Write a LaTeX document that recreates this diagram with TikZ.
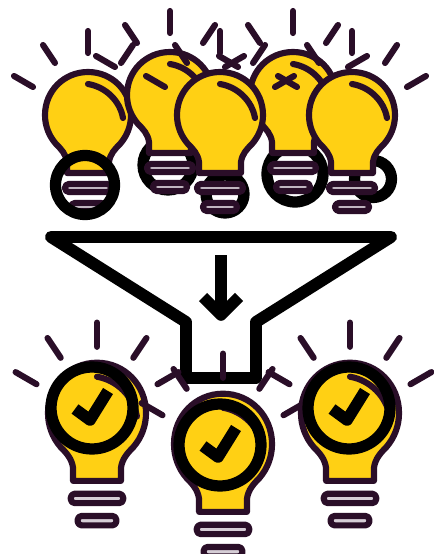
\documentclass[tikz,border=0pt]{standalone}
\usepackage{tikz}
\usepackage{xcolor}
\definecolor{BulbYellow}{RGB}{255,208,20}
\definecolor{BulbDark}{RGB}{42,14,40}
\definecolor{PillGrey}{RGB}{214,206,214}

\begin{document}
\begin{tikzpicture}[
  x=0.02cm, y=-0.02cm,
  darkline/.style={draw=BulbDark, line width=3.5pt, line cap=round, line join=round},
  ringline/.style={draw=black, line width=6.4pt},
  funnelline/.style={draw=black, line width=6.8pt, line cap=round, line join=round},
  pill/.style={darkline, fill=PillGrey, rounded corners=2.2pt},
  rays/.pic={
    \draw[darkline] (0,-84) -- (0,-62);
    \draw[darkline] (-45,-70) -- (-33,-52);
    \draw[darkline] (45,-70) -- (33,-52);
    \draw[darkline] (-74,-39) -- (-55,-28);
    \draw[darkline] (74,-39) -- (55,-28);
  },
  bulb/.pic={
    \draw[pill] (-23,69) rectangle (23,77);
    \draw[pill] (-17,88) rectangle (17,96);
    \draw[darkline, fill=BulbYellow] (-21,58) -- (-21,47)
      .. controls (-22,39) and (-27,34) .. (-32,29)
      .. controls (-39,21) and (-43,11) .. (-43,0)
      .. controls (-43,-24) and (-24,-43) .. (0,-43)
      .. controls (24,-43) and (43,-24) .. (43,0)
      .. controls (43,11) and (39,21) .. (32,29)
      .. controls (27,34) and (22,39) .. (21,47)
      -- (21,58) -- cycle;
    \draw[darkline] (0,-31) .. controls (18,-28) and (32,-14) .. (35,3);
  },
  okring/.pic={
    \draw[ringline] (0,0) circle (41);
    \draw[draw=black, line width=6.6pt, line join=round] (-17,1) -- (-2,12) -- (16,-17);
  }
]
\useasboundingbox (0,0) rectangle (433,554);

% top row
\draw[ringline] (168,165) circle (25);
\draw[ringline] (295,174) circle (28);
\draw[ringline] (225,194) circle (19);
\draw[ringline] (373,179) circle (18.5);

\pic at (88,115) {rays};
\pic at (88,115) {bulb};
\pic at (170,95) {rays};
\pic at (170,95) {bulb};
\pic at (293,95) {rays};
\pic at (293,95) {bulb};
\pic at (220,115) {rays};
\pic at (220,115) {bulb};
\pic at (352,115) {rays};
\pic at (352,115) {bulb};
\draw[ringline] (85,185) circle (29.5);

% funnel
\draw[funnelline] (51,237) -- (391,237) -- (256,322) -- (256,378) -- (186,378) -- (186,322) -- cycle;
\draw[draw=black, line width=6.6pt] (221,255) -- (221,310);
\draw[draw=black, line width=6.6pt, line join=round] (203,297) -- (221,315) -- (239,297);

% bottom row
\foreach \px/\py in {97/413, 223/444, 350/413} {
  \pic[scale=1.1] at (\px,\py+2) {rays};
  \pic[xscale=1.14, yscale=1.17] at (\px,\py) {bulb};
}
\pic at (92,408) {okring};
\pic at (220,445) {okring};
\pic at (349,408) {okring};
\end{tikzpicture}
\end{document}
